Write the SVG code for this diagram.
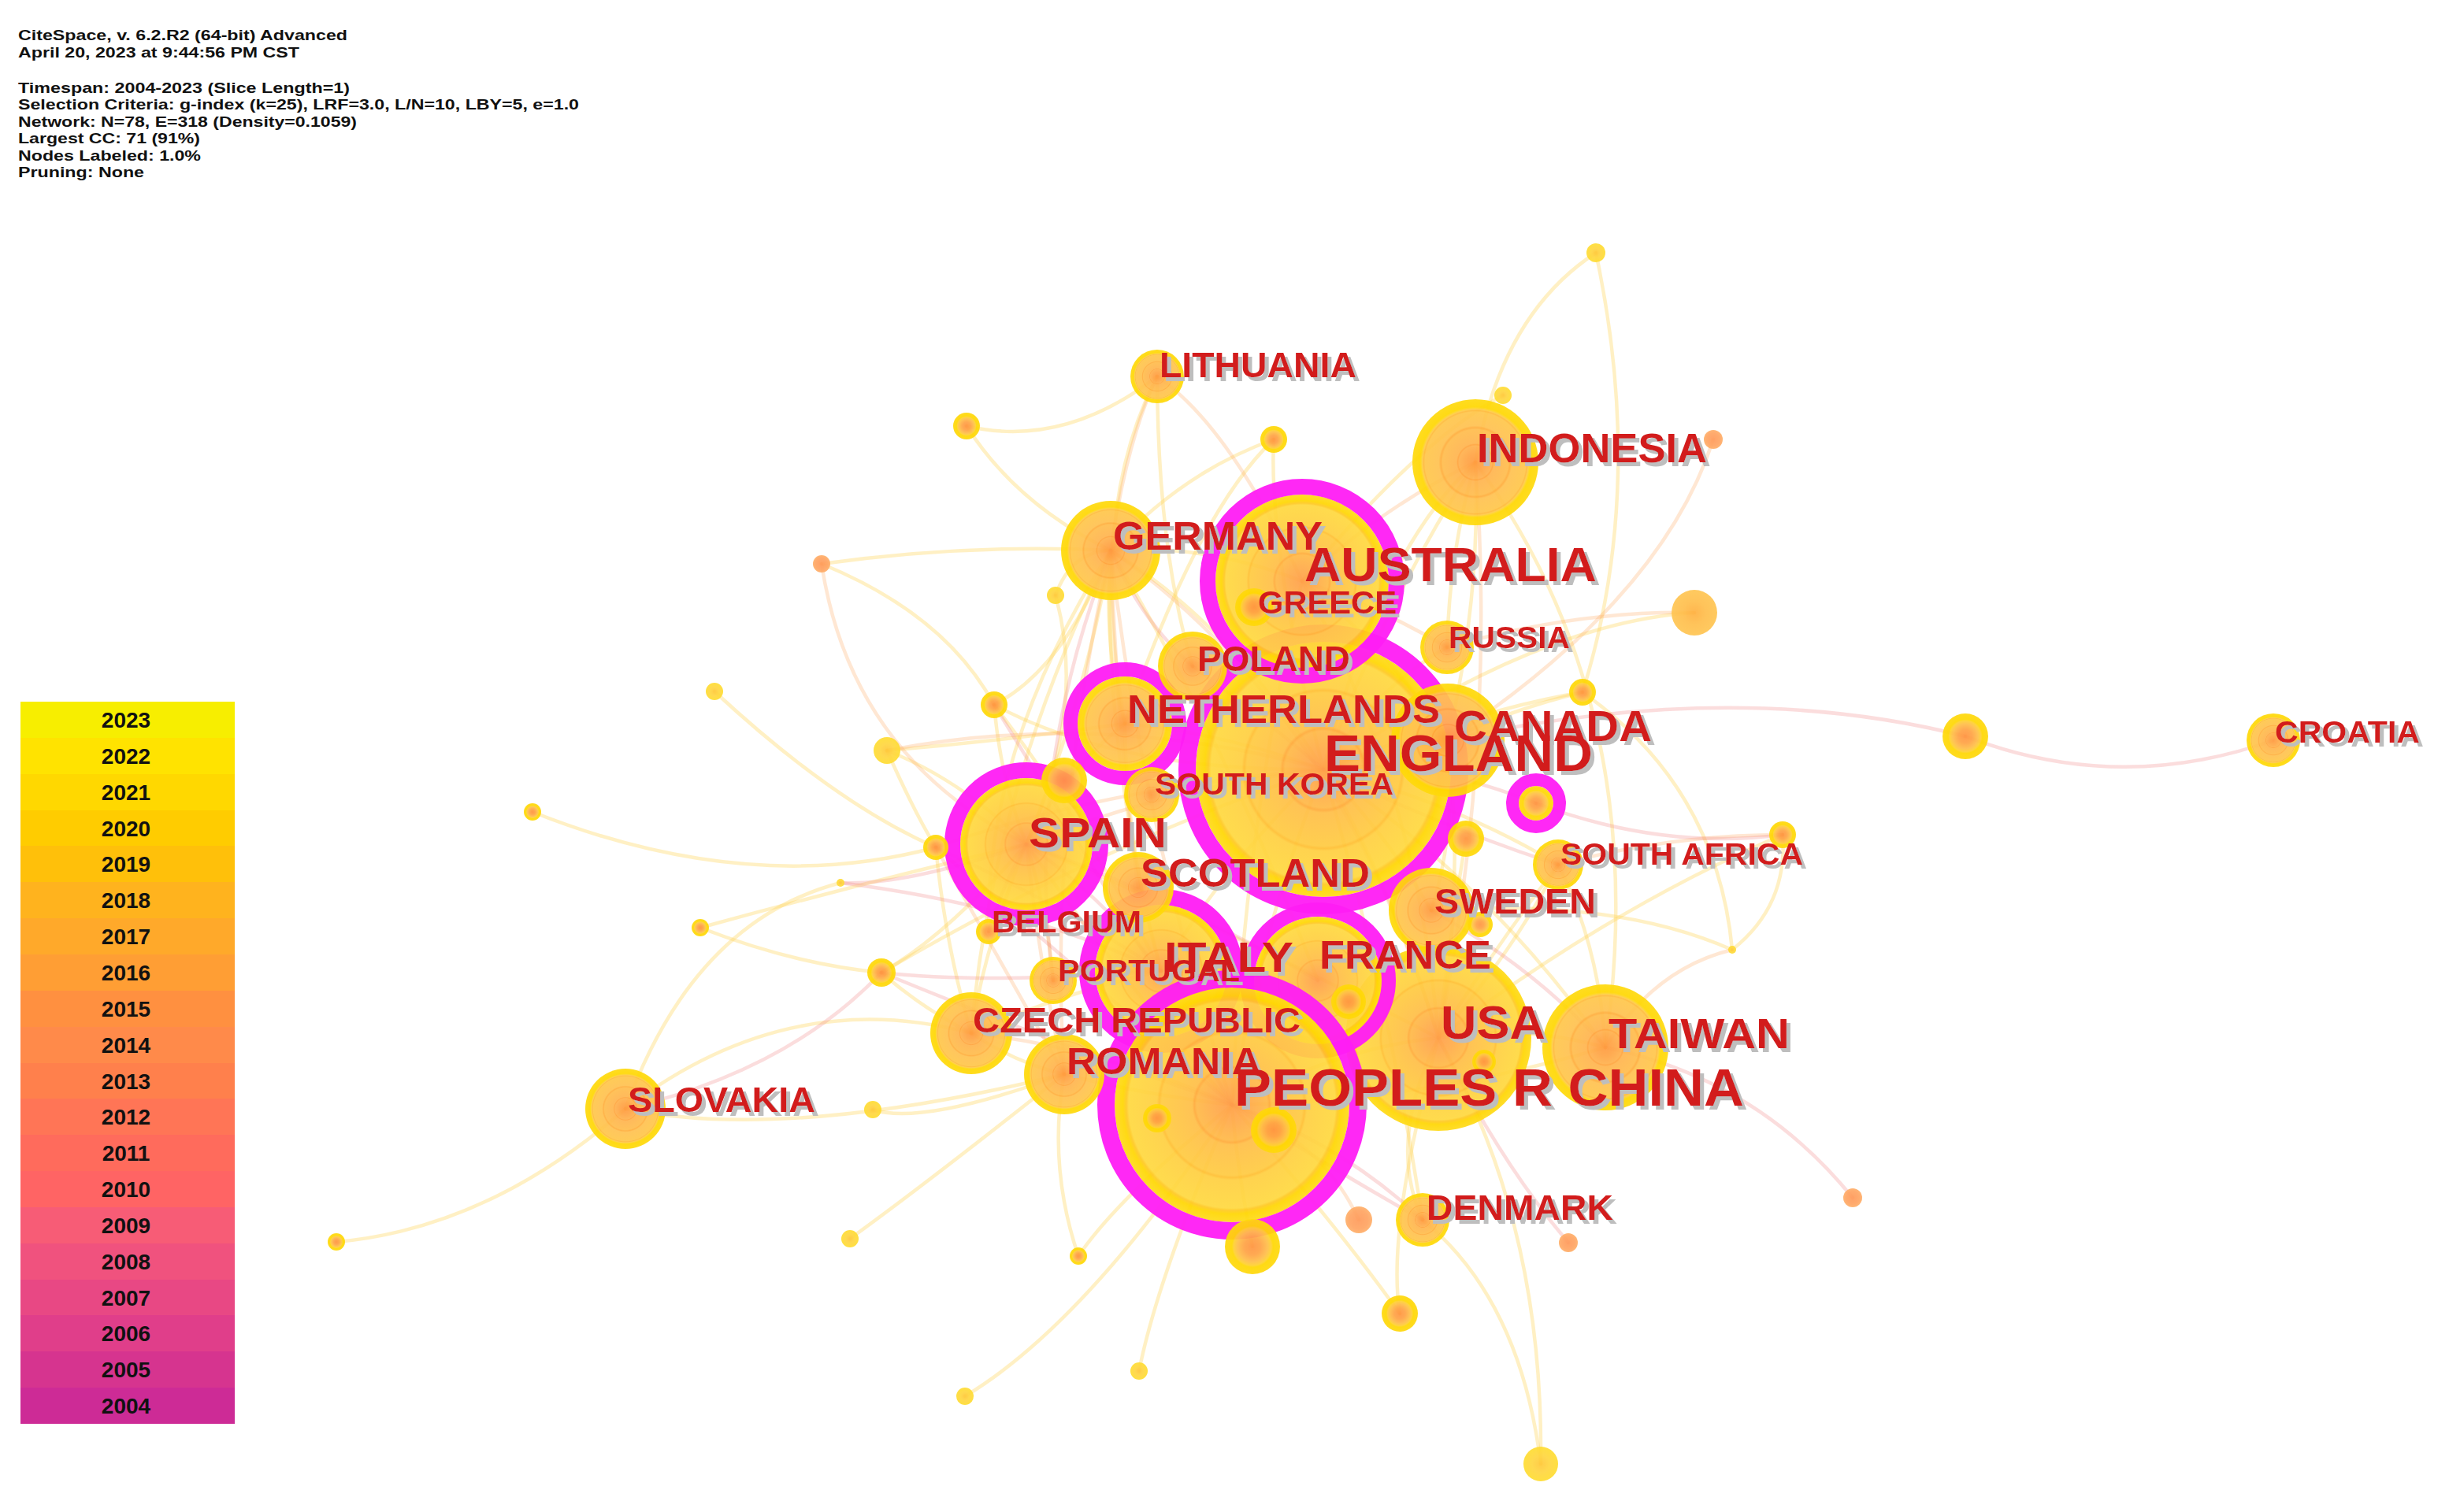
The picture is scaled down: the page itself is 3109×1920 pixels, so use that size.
<svg xmlns="http://www.w3.org/2000/svg" width="3109" height="1920" viewBox="0 0 3109 1920">
<defs>
<style>
.hd{font-family:"Liberation Sans",Arial,sans-serif;font-size:19px;font-weight:bold;fill:#111}
.yr{font-family:"Liberation Sans",Arial,sans-serif;font-size:28px;font-weight:bold;fill:#111;text-anchor:middle}
.lb{font-family:"Liberation Sans",Arial,sans-serif;font-weight:bold;fill:#D21F1F}
#connectors path{fill:none;stroke-width:4.5;stroke-linecap:round}
.ey path{stroke:#FFD65C;stroke-opacity:.36}
.eo path{stroke:#FFA860;stroke-opacity:.28}
.ep path{stroke:#F07878;stroke-opacity:.25}
#nodes circle{fill-opacity:.92}
.mg{fill:none;stroke:#FF1CF4;stroke-opacity:.95}
.L{fill:url(#gL)}.M{fill:url(#gM)}.S{fill:url(#gS)}.Y{fill:url(#gY)}.O{fill:url(#gO)}.LO{fill:url(#gLO)}
</style>
<radialGradient id="gL">
<stop offset="0" stop-color="#FF9E48"/><stop offset=".15" stop-color="#FFAA48"/><stop offset=".3" stop-color="#FFB846"/>
<stop offset=".32" stop-color="#FFAA38"/><stop offset=".34" stop-color="#FFBE46"/><stop offset=".6" stop-color="#FFCA40"/>
<stop offset=".62" stop-color="#FFBE30"/><stop offset=".64" stop-color="#FFCF40"/><stop offset=".88" stop-color="#FFD83E"/>
<stop offset=".9" stop-color="#FFC820"/><stop offset=".93" stop-color="#FFD600"/><stop offset="1" stop-color="#FFDA18"/>
</radialGradient>
<radialGradient id="gM">
<stop offset="0" stop-color="#FF9A3E"/><stop offset=".14" stop-color="#FFA444"/><stop offset=".26" stop-color="#FFB04C"/>
<stop offset=".28" stop-color="#FFA23A"/><stop offset=".3" stop-color="#FFB44E"/><stop offset=".52" stop-color="#FFBC4C"/>
<stop offset=".55" stop-color="#FFAC3A"/><stop offset=".58" stop-color="#FFC150"/><stop offset=".8" stop-color="#FFC64A"/>
<stop offset=".82" stop-color="#FFB838"/><stop offset=".84" stop-color="#FFCA46"/><stop offset=".86" stop-color="#FFD41E"/>
<stop offset=".88" stop-color="#FFD700"/><stop offset="1" stop-color="#FFD90C"/>
</radialGradient>
<radialGradient id="gS">
<stop offset="0" stop-color="#FF9440"/><stop offset=".3" stop-color="#FFA244"/><stop offset=".55" stop-color="#FFBE48"/>
<stop offset=".68" stop-color="#FFD030"/><stop offset=".75" stop-color="#FFD700"/><stop offset="1" stop-color="#FFD80C"/>
</radialGradient>
<radialGradient id="gY">
<stop offset="0" stop-color="#FFC83A"/><stop offset=".5" stop-color="#FFD640"/><stop offset="1" stop-color="#FFDD30"/>
</radialGradient>
<radialGradient id="gO">
<stop offset="0" stop-color="#FF9A5A"/><stop offset=".7" stop-color="#FFA462"/><stop offset="1" stop-color="#FFB06A"/>
</radialGradient>
<radialGradient id="gLO">
<stop offset="0" stop-color="#FFB040"/><stop offset=".5" stop-color="#FFBE4C"/><stop offset="1" stop-color="#FFC552"/>
</radialGradient>
<filter id="sh" filterUnits="userSpaceOnUse" x="0" y="0" width="3109" height="1920">
<feOffset in="SourceAlpha" dx="5" dy="5" result="o"/>
<feFlood flood-color="#BEBEBE"/>
<feComposite in2="o" operator="in" result="s"/>
<feMerge><feMergeNode in="s"/><feMergeNode in="SourceGraphic"/></feMerge>
</filter>
</defs>
<rect width="3109" height="1920" fill="#FFFFFF"/>

<g id="header">
<text class="hd" x="23" y="51" textLength="418" lengthAdjust="spacingAndGlyphs">CiteSpace, v. 6.2.R2 (64-bit) Advanced</text>
<text class="hd" x="23" y="73" textLength="357" lengthAdjust="spacingAndGlyphs">April 20, 2023 at 9:44:56 PM CST</text>
<text class="hd" x="23" y="118" textLength="421" lengthAdjust="spacingAndGlyphs">Timespan: 2004-2023 (Slice Length=1)</text>
<text class="hd" x="23" y="139" textLength="712" lengthAdjust="spacingAndGlyphs">Selection Criteria: g-index (k=25), LRF=3.0, L/N=10, LBY=5, e=1.0</text>
<text class="hd" x="23" y="161" textLength="430" lengthAdjust="spacingAndGlyphs">Network: N=78, E=318 (Density=0.1059)</text>
<text class="hd" x="23" y="182" textLength="231" lengthAdjust="spacingAndGlyphs">Largest CC: 71 (91%)</text>
<text class="hd" x="23" y="204" textLength="232" lengthAdjust="spacingAndGlyphs">Nodes Labeled: 1.0%</text>
<text class="hd" x="23" y="225" textLength="160" lengthAdjust="spacingAndGlyphs">Pruning: None</text>
</g>

<g id="legend">
<rect x="26" y="891" width="272" height="47" fill="#F7EE00"/>
<rect x="26" y="937" width="272" height="47" fill="#FFE300"/>
<rect x="26" y="983" width="272" height="47" fill="#FFD800"/>
<rect x="26" y="1029" width="272" height="46" fill="#FFCC00"/>
<rect x="26" y="1074" width="272" height="47" fill="#FFC00A"/>
<rect x="26" y="1120" width="272" height="47" fill="#FFB31E"/>
<rect x="26" y="1166" width="272" height="47" fill="#FFA92A"/>
<rect x="26" y="1212" width="272" height="47" fill="#FF9E34"/>
<rect x="26" y="1258" width="272" height="47" fill="#FF9040"/>
<rect x="26" y="1304" width="272" height="47" fill="#FF8A4A"/>
<rect x="26" y="1350" width="272" height="46" fill="#FF804C"/>
<rect x="26" y="1395" width="272" height="47" fill="#FF7556"/>
<rect x="26" y="1441" width="272" height="47" fill="#FF6B5C"/>
<rect x="26" y="1487" width="272" height="47" fill="#FF6464"/>
<rect x="26" y="1533" width="272" height="47" fill="#F75C76"/>
<rect x="26" y="1579" width="272" height="47" fill="#F0527E"/>
<rect x="26" y="1625" width="272" height="46" fill="#E84884"/>
<rect x="26" y="1670" width="272" height="47" fill="#E03E8A"/>
<rect x="26" y="1716" width="272" height="47" fill="#D6348F"/>
<rect x="26" y="1762" width="272" height="46" fill="#CD2B96"/>
<text class="yr" x="160" y="924">2023</text>
<text class="yr" x="160" y="970">2022</text>
<text class="yr" x="160" y="1016">2021</text>
<text class="yr" x="160" y="1062">2020</text>
<text class="yr" x="160" y="1107">2019</text>
<text class="yr" x="160" y="1153">2018</text>
<text class="yr" x="160" y="1199">2017</text>
<text class="yr" x="160" y="1245">2016</text>
<text class="yr" x="160" y="1291">2015</text>
<text class="yr" x="160" y="1337">2014</text>
<text class="yr" x="160" y="1383">2013</text>
<text class="yr" x="160" y="1428">2012</text>
<text class="yr" x="160" y="1474">2011</text>
<text class="yr" x="160" y="1520">2010</text>
<text class="yr" x="160" y="1566">2009</text>
<text class="yr" x="160" y="1612">2008</text>
<text class="yr" x="160" y="1658">2007</text>
<text class="yr" x="160" y="1703">2006</text>
<text class="yr" x="160" y="1749">2005</text>
<text class="yr" x="160" y="1795">2004</text>
</g>

<g id="connectors">
<g class="ey">
<path d="M2026 321 Q1905 400 1873 587"/>
<path d="M2026 321 Q2090 620 2009 879"/>
<path d="M1227 541 Q1350 570 1469 478"/>
<path d="M1227 541 Q1290 640 1410 699"/>
<path d="M1469 478 Q1470 700 1514 846"/>
<path d="M1469 478 Q1380 650 1428 919"/>
<path d="M1617 558 Q1500 600 1410 699"/>
<path d="M1617 558 Q1610 700 1680 977"/>
<path d="M1617 558 Q1520 650 1428 919"/>
<path d="M1908 502 Q1800 560 1653 738"/>
<path d="M2151 778 Q1950 790 1680 977"/>
<path d="M2263 1060 Q2270 1150 2199 1206"/>
<path d="M2199 1206 Q2050 1140 1817 1156"/>
<path d="M2199 1206 Q2180 1000 2009 879"/>
<path d="M1956 1859 Q1930 1650 1806 1549"/>
<path d="M1956 1859 Q1960 1550 1826 1318"/>
<path d="M1777 1668 Q1760 1560 1826 1318"/>
<path d="M1777 1668 Q1700 1560 1564 1403"/>
<path d="M1446 1741 Q1470 1620 1564 1403"/>
<path d="M1225 1773 Q1380 1680 1564 1403"/>
<path d="M1369 1595 Q1420 1520 1564 1403"/>
<path d="M1369 1595 Q1330 1480 1351 1364"/>
<path d="M1079 1573 Q1180 1500 1351 1364"/>
<path d="M1108 1409 Q1170 1430 1351 1364"/>
<path d="M794 1408 Q1000 1250 1233 1312"/>
<path d="M794 1408 Q1000 1450 1351 1364"/>
<path d="M794 1408 Q620 1560 427 1577"/>
<path d="M794 1408 Q880 1170 1067 1121"/>
<path d="M889 1178 Q1010 1225 1119 1235"/>
<path d="M1119 1235 Q1200 1190 1303 1072"/>
<path d="M676 1031 Q950 1140 1188 1076"/>
<path d="M907 878 Q1060 1020 1188 1076"/>
<path d="M1126 953 Q1160 1030 1188 1076"/>
<path d="M1126 953 Q1280 940 1428 919"/>
<path d="M1043 716 Q1200 780 1262 895"/>
<path d="M1262 895 Q1350 850 1410 699"/>
<path d="M1262 895 Q1420 980 1680 977"/>
<path d="M1340 756 Q1380 900 1303 1072"/>
<path d="M1340 756 Q1360 700 1410 699"/>
<path d="M1590 1583 Q1570 1480 1564 1403"/>
<path d="M1806 1549 Q1760 1450 1826 1318"/>
<path d="M1978 1098 Q1900 1200 1826 1318"/>
<path d="M1978 1098 Q1850 1020 1680 977"/>
<path d="M2009 879 Q1880 900 1680 977"/>
<path d="M1837 822 Q1750 870 1680 977"/>
<path d="M1873 587 Q1750 700 1680 977"/>
<path d="M1410 699 Q1560 790 1680 977"/>
<path d="M1410 699 Q1380 880 1303 1072"/>
<path d="M1410 699 Q1400 950 1474 1233"/>
<path d="M1410 699 Q1560 950 1673 1245"/>
<path d="M1410 699 Q1260 1000 1233 1312"/>
<path d="M1410 699 Q1530 690 1653 738"/>
<path d="M1410 699 Q1400 820 1428 919"/>
<path d="M1410 699 Q1250 950 1255 1183"/>
<path d="M1303 1072 Q1330 1160 1337 1245"/>
<path d="M1303 1072 Q1250 1200 1233 1312"/>
<path d="M1303 1072 Q1420 1240 1564 1403"/>
<path d="M1303 1072 Q1560 1180 1826 1318"/>
<path d="M1303 1072 Q1350 980 1428 919"/>
<path d="M1428 919 Q1550 930 1680 977"/>
<path d="M1428 919 Q1430 1080 1474 1233"/>
<path d="M1680 977 Q1770 1130 1826 1318"/>
<path d="M1680 977 Q1600 1180 1564 1403"/>
<path d="M1680 977 Q1760 950 1838 940"/>
<path d="M1680 977 Q1560 1090 1474 1233"/>
<path d="M1680 977 Q1760 1060 1817 1156"/>
<path d="M1680 977 Q1890 1120 2038 1330"/>
<path d="M1680 977 Q1760 1250 1806 1549"/>
<path d="M1680 977 Q1760 760 1873 587"/>
<path d="M1653 738 Q1800 1000 1826 1318"/>
<path d="M1653 738 Q1580 1050 1564 1403"/>
<path d="M1653 738 Q1760 820 1838 940"/>
<path d="M1564 1403 Q1700 1330 1826 1318"/>
<path d="M1564 1403 Q1800 1400 2038 1330"/>
<path d="M1564 1403 Q1450 1390 1351 1364"/>
<path d="M1826 1318 Q1930 1300 2038 1330"/>
<path d="M1826 1318 Q1860 1130 1838 940"/>
<path d="M1826 1318 Q1920 1210 1978 1098"/>
<path d="M1873 587 Q1880 760 1838 940"/>
<path d="M1873 587 Q1840 700 1837 822"/>
<path d="M1873 587 Q2100 900 2038 1330"/>
<path d="M1817 1156 Q1850 1050 1838 940"/>
<path d="M2038 1330 Q2030 1200 1978 1098"/>
<path d="M1474 1233 Q1350 1260 1233 1312"/>
<path d="M1474 1233 Q1400 1230 1337 1245"/>
<path d="M1233 1312 Q1290 1350 1351 1364"/>
<path d="M1262 895 Q1270 990 1303 1072"/>
<path d="M1262 895 Q1380 1050 1474 1233"/>
<path d="M1188 1076 Q1200 1200 1233 1312"/>
<path d="M1126 953 Q1220 990 1303 1072"/>
<path d="M1119 1235 Q1170 1280 1233 1312"/>
<path d="M1119 1235 Q1400 1070 1680 977"/>
<path d="M889 1178 Q1100 1120 1303 1072"/>
<path d="M1043 716 Q1230 690 1410 699"/>
<path d="M2009 879 Q1920 900 1838 940"/>
<path d="M2263 1060 Q2050 1150 1826 1318"/>
<path d="M1861 1065 Q1840 1190 1826 1318"/>
</g>
<g class="eo">
<path d="M1469 478 Q1430 560 1410 699"/>
<path d="M1469 478 Q1560 540 1653 738"/>
<path d="M2175 558 Q2110 760 1838 940"/>
<path d="M2151 778 Q2000 775 1837 822"/>
<path d="M2199 1206 Q2100 1230 2038 1330"/>
<path d="M2263 1060 Q2120 1060 1978 1098"/>
<path d="M1725 1549 Q1680 1450 1564 1403"/>
<path d="M1043 716 Q1080 960 1303 1072"/>
<path d="M1188 1076 Q1400 1000 1680 977"/>
<path d="M1873 587 Q1760 640 1653 738"/>
<path d="M1410 699 Q1450 1050 1564 1403"/>
<path d="M1410 699 Q1700 900 1826 1318"/>
<path d="M1410 699 Q1330 1050 1351 1364"/>
<path d="M1410 699 Q1420 950 1445 1127"/>
<path d="M1303 1072 Q1480 1000 1680 977"/>
<path d="M1303 1072 Q1320 1230 1351 1364"/>
<path d="M1126 953 Q1400 900 1680 977"/>
<path d="M1826 1318 Q1900 950 1873 587"/>
<path d="M1653 738 Q1750 770 1837 822"/>
<path d="M1564 1403 Q1400 1330 1233 1312"/>
<path d="M1188 1076 Q1270 1220 1351 1364"/>
</g>
<g class="ep">
<path d="M2886 940 Q2690 1010 2495 935"/>
<path d="M2495 935 Q2200 860 1838 940"/>
<path d="M2352 1521 Q2230 1370 2038 1330"/>
<path d="M1991 1578 Q1900 1470 1826 1318"/>
<path d="M794 1408 Q1000 1360 1119 1235"/>
<path d="M1067 1121 Q1150 1125 1303 1072"/>
<path d="M1119 1235 Q1250 1250 1474 1233"/>
<path d="M1188 1076 Q1350 1150 1474 1233"/>
<path d="M1806 1549 Q1700 1450 1564 1403"/>
<path d="M1950 1020 Q1800 960 1680 977"/>
<path d="M1950 1020 Q2110 1080 2263 1060"/>
<path d="M1410 699 Q1450 790 1514 846"/>
<path d="M1303 1072 Q1390 1130 1474 1233"/>
<path d="M1303 1072 Q1490 1140 1673 1245"/>
<path d="M1303 1072 Q1270 1130 1255 1183"/>
<path d="M1410 699 Q1300 980 1337 1245"/>
<path d="M1262 895 Q1420 1150 1564 1403"/>
<path d="M1188 1076 Q1380 1240 1564 1403"/>
<path d="M1119 1235 Q1350 1330 1564 1403"/>
<path d="M1067 1121 Q1300 1150 1474 1233"/>
<path d="M1680 977 Q1830 1050 1978 1098"/>
<path d="M1564 1403 Q1700 1490 1806 1549"/>
<path d="M1680 977 Q1590 900 1514 846"/>
<path d="M1817 1156 Q1950 1230 2038 1330"/>
</g>
</g>

<g id="nodes">
<g id="node-england"><circle class="L" cx="1680" cy="977" r="162"/><circle class="mg" cx="1680" cy="977" r="173" stroke-width="22"/></g>
<g id="node-australia"><circle class="L" cx="1653" cy="738" r="110"/><circle class="mg" cx="1653" cy="738" r="120" stroke-width="20"/></g>
<g id="node-usa"><circle class="L" cx="1826" cy="1318" r="118"/></g>
<g id="node-italy"><circle class="L" cx="1474" cy="1233" r="84"/><circle class="mg" cx="1474" cy="1233" r="94" stroke-width="20"/></g>
<g id="node-france"><circle class="L" cx="1673" cy="1245" r="81"/><circle class="mg" cx="1673" cy="1245" r="90" stroke-width="18"/></g>
<g id="node-peoples-r-china"><circle class="L" cx="1564" cy="1403" r="149"/><circle class="mg" cx="1564" cy="1403" r="160" stroke-width="22"/></g>
<g id="node-taiwan"><circle class="M" cx="2038" cy="1330" r="80"/></g>
<g id="node-spain"><circle class="L" cx="1303" cy="1072" r="84"/><circle class="mg" cx="1303" cy="1072" r="94" stroke-width="20"/></g>
<g id="node-netherlands"><circle class="M" cx="1428" cy="919" r="60"/><circle class="mg" cx="1428" cy="919" r="69" stroke-width="18"/></g>
<g id="node-germany"><circle class="M" cx="1410" cy="699" r="63"/></g>
<g id="node-indonesia"><circle class="M" cx="1873" cy="587" r="80"/></g>
<g id="node-canada"><circle class="M" cx="1838" cy="940" r="72"/></g>
<g id="node-poland"><circle class="M" cx="1514" cy="846" r="44"/></g>
<g id="node-scotland"><circle class="M" cx="1445" cy="1127" r="45"/></g>
<g id="node-sweden"><circle class="M" cx="1817" cy="1156" r="54"/></g>
<g id="node-south-korea"><circle class="M" cx="1462" cy="1009" r="35"/></g>
<g id="node-romania"><circle class="M" cx="1351" cy="1364" r="51"/></g>
<g id="node-czech-republic"><circle class="M" cx="1233" cy="1312" r="52"/></g>
<g id="node-portugal"><circle class="M" cx="1337" cy="1245" r="30"/></g>
<g id="node-belgium"><circle class="S" cx="1255" cy="1183" r="16"/></g>
<g id="node-greece"><circle class="S" cx="1592" cy="771" r="24"/></g>
<g id="node-lithuania"><circle class="M" cx="1469" cy="478" r="34"/></g>
<g id="node-russia"><circle class="M" cx="1837" cy="822" r="34"/></g>
<g id="node-south-africa"><circle class="M" cx="1978" cy="1098" r="32"/></g>
<g id="node-denmark"><circle class="M" cx="1806" cy="1549" r="34"/></g>
<g id="node-slovakia"><circle class="M" cx="794" cy="1408" r="51"/></g>
<g id="node-croatia"><circle class="M" cx="2886" cy="940" r="34"/></g>
<g id="node-m1"><circle class="S" cx="1950" cy="1020" r="22"/><circle class="mg" cx="1950" cy="1020" r="30" stroke-width="16"/></g>
<g id="node-s1"><circle class="S" cx="1351" cy="991" r="29"/></g>
<g id="node-s2"><circle class="S" cx="1262" cy="895" r="17"/></g>
<g id="node-s3"><circle class="S" cx="1188" cy="1076" r="16"/></g>
<g id="node-s4"><circle class="S" cx="1227" cy="541" r="17"/></g>
<g id="node-s5"><circle class="S" cx="1617" cy="558" r="17"/></g>
<g id="node-s6"><circle class="S" cx="2009" cy="879" r="17"/></g>
<g id="node-s7"><circle class="S" cx="1861" cy="1065" r="23"/></g>
<g id="node-s8"><circle class="S" cx="2263" cy="1060" r="17"/></g>
<g id="node-s9"><circle class="S" cx="1879" cy="1174" r="16"/></g>
<g id="node-s10"><circle class="S" cx="1590" cy="1583" r="35"/></g>
<g id="node-s11"><circle class="S" cx="1119" cy="1235" r="18"/></g>
<g id="node-s12"><circle class="S" cx="889" cy="1178" r="11"/></g>
<g id="node-s13"><circle class="S" cx="676" cy="1031" r="11"/></g>
<g id="node-s14"><circle class="O" cx="1043" cy="716" r="11"/></g>
<g id="node-s15"><circle class="S" cx="427" cy="1577" r="11"/></g>
<g id="node-s16"><circle class="S" cx="2495" cy="935" r="29"/></g>
<g id="node-s17"><circle class="S" cx="1469" cy="1420" r="18"/></g>
<g id="node-s18"><circle class="S" cx="1617" cy="1435" r="29"/></g>
<g id="node-s19"><circle class="S" cx="1712" cy="1272" r="22"/></g>
<g id="node-s20"><circle class="S" cx="1884" cy="1348" r="15"/></g>
<g id="node-s21"><circle class="Y" cx="1340" cy="756" r="11"/></g>
<g id="node-s22"><circle class="Y" cx="1908" cy="502" r="11"/></g>
<g id="node-s23"><circle class="Y" cx="2026" cy="321" r="12"/></g>
<g id="node-s24"><circle class="Y" cx="907" cy="878" r="11"/></g>
<g id="node-s25"><circle class="Y" cx="1126" cy="953" r="17"/></g>
<g id="node-s26"><circle class="Y" cx="1067" cy="1121" r="5"/></g>
<g id="node-s27"><circle class="Y" cx="1108" cy="1409" r="11"/></g>
<g id="node-s28"><circle class="Y" cx="1079" cy="1573" r="11"/></g>
<g id="node-s29"><circle class="S" cx="1369" cy="1595" r="11"/></g>
<g id="node-s30"><circle class="Y" cx="1446" cy="1741" r="11"/></g>
<g id="node-s31"><circle class="Y" cx="1225" cy="1773" r="11"/></g>
<g id="node-s32"><circle class="Y" cx="1956" cy="1859" r="22"/></g>
<g id="node-s33"><circle class="Y" cx="2199" cy="1206" r="5"/></g>
<g id="node-s34"><circle class="O" cx="2175" cy="558" r="12"/></g>
<g id="node-s35"><circle class="O" cx="1991" cy="1578" r="12"/></g>
<g id="node-s36"><circle class="O" cx="2352" cy="1521" r="12"/></g>
<g id="node-s37"><circle class="O" cx="1725" cy="1549" r="17"/></g>
<g id="node-s38"><circle class="S" cx="1777" cy="1668" r="23"/></g>
<g id="node-s39"><circle class="LO" cx="2151" cy="778" r="29"/></g>
</g>

<g id="labels" filter="url(#sh)">
<text id="lb-lithuania" class="lb" x="1472" y="479" font-size="45" textLength="250" lengthAdjust="spacingAndGlyphs">LITHUANIA</text>
<text id="lb-indonesia" class="lb" x="1875" y="587" font-size="51" textLength="292" lengthAdjust="spacingAndGlyphs">INDONESIA</text>
<text id="lb-germany" class="lb" x="1413" y="698" font-size="50" textLength="266" lengthAdjust="spacingAndGlyphs">GERMANY</text>
<text id="lb-australia" class="lb" x="1656" y="738" font-size="61" textLength="371" lengthAdjust="spacingAndGlyphs">AUSTRALIA</text>
<text id="lb-greece" class="lb" x="1597" y="779" font-size="40" textLength="176" lengthAdjust="spacingAndGlyphs">GREECE</text>
<text id="lb-russia" class="lb" x="1839" y="823" font-size="39" textLength="154" lengthAdjust="spacingAndGlyphs">RUSSIA</text>
<text id="lb-poland" class="lb" x="1520" y="852" font-size="44" textLength="194" lengthAdjust="spacingAndGlyphs">POLAND</text>
<text id="lb-netherlands" class="lb" x="1431" y="918" font-size="50" textLength="397" lengthAdjust="spacingAndGlyphs">NETHERLANDS</text>
<text id="lb-canada" class="lb" x="1846" y="941" font-size="55" textLength="251" lengthAdjust="spacingAndGlyphs">CANADA</text>
<text id="lb-england" class="lb" x="1681" y="979" font-size="65" textLength="341" lengthAdjust="spacingAndGlyphs">ENGLAND</text>
<text id="lb-south-korea" class="lb" x="1466" y="1009" font-size="39" textLength="303" lengthAdjust="spacingAndGlyphs">SOUTH KOREA</text>
<text id="lb-spain" class="lb" x="1306" y="1076" font-size="54" textLength="175" lengthAdjust="spacingAndGlyphs">SPAIN</text>
<text id="lb-scotland" class="lb" x="1448" y="1126" font-size="50" textLength="291" lengthAdjust="spacingAndGlyphs">SCOTLAND</text>
<text id="lb-south-africa" class="lb" x="1981" y="1098" font-size="39" textLength="308" lengthAdjust="spacingAndGlyphs">SOUTH AFRICA</text>
<text id="lb-sweden" class="lb" x="1821" y="1160" font-size="44" textLength="205" lengthAdjust="spacingAndGlyphs">SWEDEN</text>
<text id="lb-belgium" class="lb" x="1259" y="1184" font-size="39" textLength="190" lengthAdjust="spacingAndGlyphs">BELGIUM</text>
<text id="lb-italy" class="lb" x="1478" y="1234" font-size="53" textLength="164" lengthAdjust="spacingAndGlyphs">ITALY</text>
<text id="lb-france" class="lb" x="1675" y="1230" font-size="50" textLength="218" lengthAdjust="spacingAndGlyphs">FRANCE</text>
<text id="lb-portugal" class="lb" x="1343" y="1246" font-size="39" textLength="231" lengthAdjust="spacingAndGlyphs">PORTUGAL</text>
<text id="lb-czech-republic" class="lb" x="1235" y="1311" font-size="44" textLength="416" lengthAdjust="spacingAndGlyphs">CZECH REPUBLIC</text>
<text id="lb-usa" class="lb" x="1829" y="1319" font-size="59" textLength="133" lengthAdjust="spacingAndGlyphs">USA</text>
<text id="lb-taiwan" class="lb" x="2042" y="1331" font-size="54" textLength="230" lengthAdjust="spacingAndGlyphs">TAIWAN</text>
<text id="lb-romania" class="lb" x="1354" y="1364" font-size="49" textLength="247" lengthAdjust="spacingAndGlyphs">ROMANIA</text>
<text id="lb-peoples-r-china" class="lb" x="1567" y="1404" font-size="67" textLength="647" lengthAdjust="spacingAndGlyphs">PEOPLES R CHINA</text>
<text id="lb-slovakia" class="lb" x="797" y="1412" font-size="44" textLength="238" lengthAdjust="spacingAndGlyphs">SLOVAKIA</text>
<text id="lb-denmark" class="lb" x="1811" y="1549" font-size="44" textLength="237" lengthAdjust="spacingAndGlyphs">DENMARK</text>
<text id="lb-croatia" class="lb" x="2888" y="943" font-size="39" textLength="184" lengthAdjust="spacingAndGlyphs">CROATIA</text>
</g>
</svg>
